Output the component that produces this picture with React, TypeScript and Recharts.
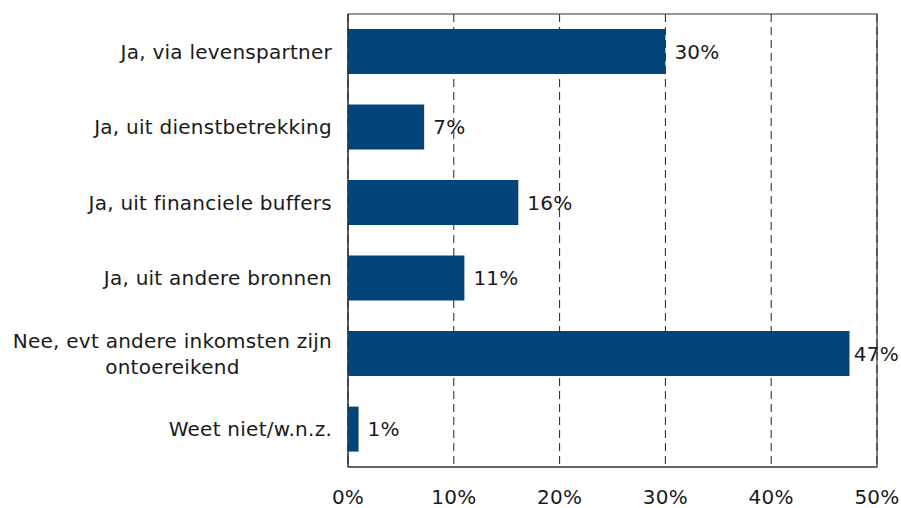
import { BarChart, Bar, XAxis, YAxis, CartesianGrid, LabelList, ReferenceArea } from 'recharts'

const categories = [
  'Ja, via levenspartner',
  'Ja, uit dienstbetrekking',
  'Ja, uit financiele buffers',
  'Ja, uit andere bronnen',
  'Nee, evt andere inkomsten zijn\nontoereikend',
  'Weet niet/w.n.z.',
]
const shares = [30, 7.2, 16.1, 11, 47.4, 1]
const xTicks = [0, 10, 20, 30, 40, 50]

const FONT = '"DejaVu Sans", Verdana, sans-serif'
const FONT_SIZE = 20
const SPACING = 0.25
const BAR_COLOR = '#03457a'
const TEXT_COLOR = '#1a1a1a'
const CHART_W = 901

const data = categories.map((name, i) => ({ name, value: shares[i] }))

let canvas: HTMLCanvasElement | null = null
function textWidth(s: string) {
  if (!canvas) canvas = document.createElement('canvas')
  const ctx = canvas.getContext('2d')!
  ctx.font = `${FONT_SIZE}px "DejaVu Sans"`
  return ctx.measureText(s).width + SPACING * s.length
}

const common = { fill: TEXT_COLOR, fontSize: FONT_SIZE, fontFamily: FONT, letterSpacing: SPACING }

function CategoryTick(props: any) {
  const { x, y, payload } = props
  const lines = String(payload.value).split('\n')
  if (lines.length === 1) {
    return (
      <text x={x} y={y} dy="0.35em" textAnchor="end" {...common}>
        {lines[0]}
      </text>
    )
  }
  // multi-line label: block right-aligned at the axis, lines centred in the block
  const w = Math.max(...lines.map(textWidth))
  const cx = x - w / 2
  const lh = 26
  const start = y - ((lines.length - 1) * lh) / 2
  return (
    <g>
      {lines.map((l, i) => (
        <text key={i} x={cx} y={start + i * lh} dy="0.35em" textAnchor="middle" {...common}>
          {l}
        </text>
      ))}
    </g>
  )
}

// value label to the right of the bar, pushed back inside the chart if it would overflow
function ValueLabel(props: any) {
  const { x, y, width, height, value } = props
  const txt = `${Math.round(Number(value))}%`
  const w = textWidth(txt)
  const lx = Math.min(x + width + 9, CHART_W - 2 - w)
  return (
    <text x={lx} y={y + height / 2} dy="0.35em" textAnchor="start" {...common}>
      {txt}
    </text>
  )
}

export default function App() {
  return (
    <div style={{ position: 'fixed', left: 0, top: 0, width: CHART_W, height: 508, background: '#fff' }}>
      <BarChart
        width={CHART_W}
        height={508}
        data={data}
        layout="vertical"
        margin={{ top: 14, right: 24, left: 0, bottom: 0 }}
        barCategoryGap="20%"
      >
        <CartesianGrid horizontal={false} vertical stroke="#222" strokeDasharray="8 5" />
        <ReferenceArea x1={0} x2={50} fill="none" stroke="#333" strokeWidth={1.2} ifOverflow="visible" />
        <XAxis
          type="number"
          domain={[0, 50]}
          ticks={xTicks}
          tickFormatter={(v) => `${v}%`}
          tickLine={false}
          tickSize={0}
          tickMargin={23}
          axisLine={{ stroke: '#333' }}
          height={41}
          tick={common}
          interval={0}
        />
        <YAxis
          type="category"
          dataKey="name"
          width={348}
          tickLine={false}
          tickSize={0}
          tickMargin={16}
          axisLine={{ stroke: '#333' }}
          tick={<CategoryTick />}
          interval={0}
        />
        <Bar dataKey="value" fill={BAR_COLOR} isAnimationActive={false}>
          <LabelList dataKey="value" content={<ValueLabel />} />
        </Bar>
      </BarChart>
    </div>
  )
}
